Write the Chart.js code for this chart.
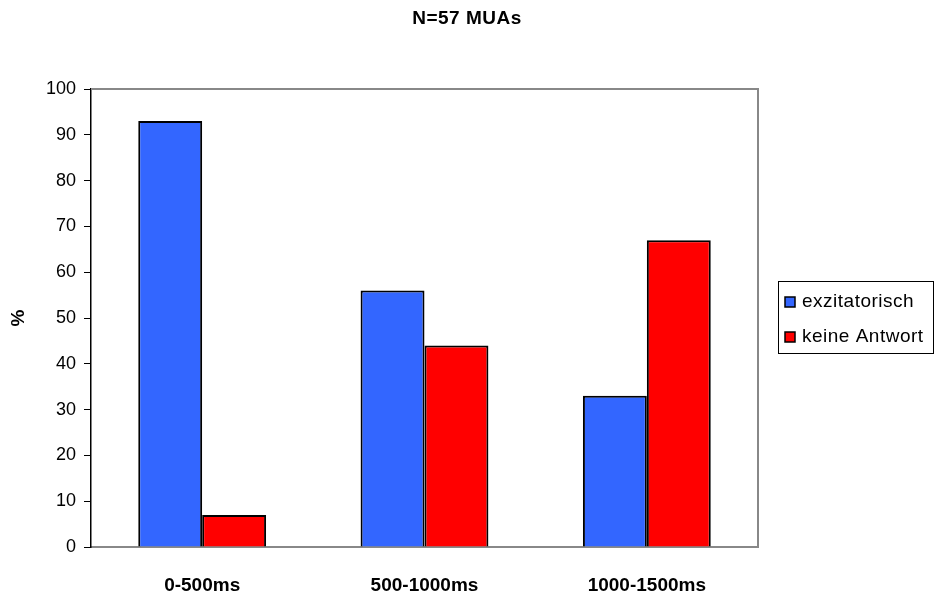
<!DOCTYPE html>
<html>
<head>
<meta charset="utf-8">
<script src="https://cdn.jsdelivr.net/npm/chart.js@4/dist/chart.umd.min.js"></script>
<style>
  html, body { margin: 0; padding: 0; background: #fff; }
  #wrap { width: 934px; height: 597px; }
</style>
</head>
<body>
<div id="wrap"><canvas id="myChart" width="934" height="597"></canvas></div>
<script>
const categories = ["0-500ms", "500-1000ms", "1000-1500ms"];
const exzitatorisch = [93, 56, 33];
const keineAntwort = [7, 44, 67];
const seriesNames = ["exzitatorisch", "keine Antwort"];
const barColors = ["#3366FF", "#FF0000"];
const titleText = "N=57 MUAs";

const FONT = "'Liberation Sans', Arial, sans-serif";

// plot frame: gray top/right line
const framePlugin = {
  id: 'frame',
  afterDatasetsDraw(chart) {
    const a = chart.chartArea, ctx = chart.ctx;
    ctx.save();
    ctx.strokeStyle = '#888888';
    ctx.lineWidth = 2;
    ctx.beginPath();
    ctx.moveTo(a.left, a.top);
    ctx.lineTo(a.right, a.top);
    ctx.lineTo(a.right, a.bottom);
    ctx.stroke();
    ctx.restore();
  }
};

// title centred on the whole canvas, boxed legend on the right
const extras = {
  id: 'extras',
  afterDraw(chart) {
    const ctx = chart.ctx;
    ctx.save();
    ctx.fillStyle = '#000';
    ctx.letterSpacing = '0.5px';
    ctx.font = 'bold 19px ' + FONT;
    ctx.textAlign = 'center';
    ctx.textBaseline = 'middle';
    ctx.fillText(titleText, 467, 19);

    const x = 778, y = 281, w = 155, h = 72;
    ctx.strokeStyle = '#000';
    ctx.lineWidth = 1;
    ctx.strokeRect(x + 0.5, y + 0.5, w, h);
    ctx.font = '19px ' + FONT;
    ctx.textAlign = 'left';
    chart.data.datasets.forEach((ds, i) => {
      const cy = y + 21 + i * 35;
      ctx.fillStyle = ds.backgroundColor;
      ctx.fillRect(785, cy - 5, 10, 10);
      ctx.strokeStyle = '#000';
      ctx.lineWidth = 1.5;
      ctx.strokeRect(785, cy - 5, 10, 10);
      ctx.fillStyle = '#000';
      ctx.fillText(ds.label, 802, cy);
    });
    ctx.restore();
  }
};

new Chart("myChart", {
  type: "bar",
  data: {
    labels: categories,
    datasets: [
      { label: seriesNames[0], data: exzitatorisch, backgroundColor: barColors[0],
        borderColor: '#000', borderWidth: 2, categoryPercentage: 0.575, barPercentage: 1 },
      { label: seriesNames[1], data: keineAntwort, backgroundColor: barColors[1],
        borderColor: '#000', borderWidth: 2, categoryPercentage: 0.575, barPercentage: 1 }
    ]
  },
  plugins: [framePlugin, extras],
  options: {
    responsive: false,
    animation: false,
    layout: { padding: { left: 0, right: 176, top: 89, bottom: 0 } },
    plugins: {
      legend: { display: false },
      tooltip: { enabled: false },
      title: { display: false }
    },
    scales: {
      x: {
        grid: { display: false, drawTicks: false },
        border: { color: '#888888', width: 2 },
        ticks: { color: '#000', padding: 27, font: { family: FONT, size: 19, weight: 'bold' } },
        afterFit(scale) { scale.height = 50; }
      },
      y: {
        min: 0, max: 100,
        ticks: { stepSize: 10, color: '#000', padding: 8, font: { family: FONT, size: 18 } },
        grid: { drawOnChartArea: false, drawTicks: true, tickLength: 7, color: '#000' },
        border: { color: '#000', width: 1.5 },
        title: { display: true, text: '%', color: '#000', padding: { top: 7, bottom: 0 },
          font: { family: FONT, size: 19, weight: 'bold' } },
        afterFit(scale) { scale.width = 91; }
      }
    }
  }
});
</script>
</body>
</html>
